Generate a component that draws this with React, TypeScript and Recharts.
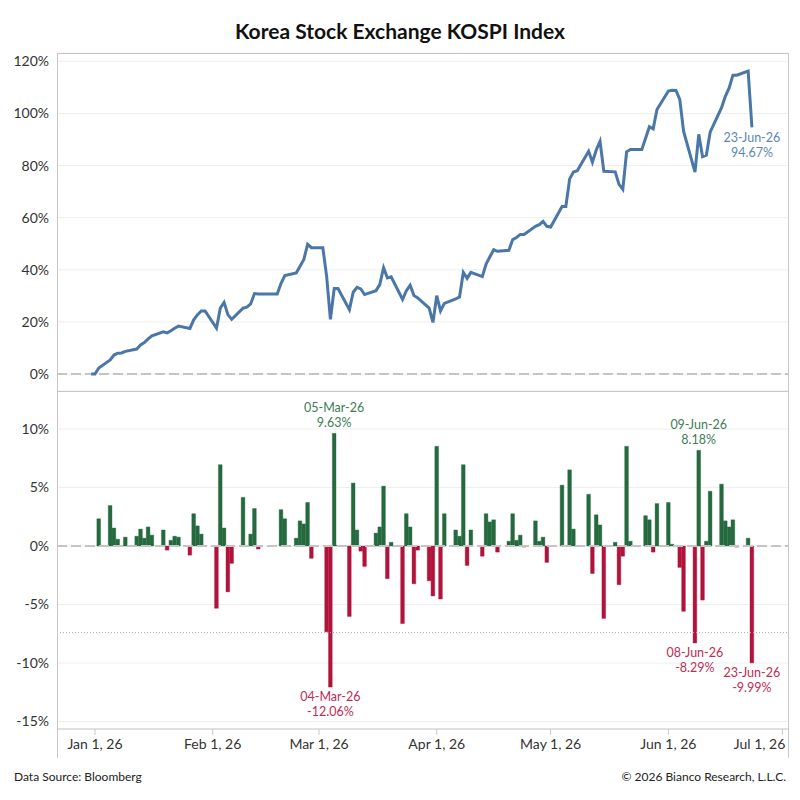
import {
  LineChart,
  Line,
  BarChart,
  Bar,
  Cell,
  XAxis,
  YAxis,
  CartesianGrid,
  ReferenceLine,
  LabelList,
} from "recharts";

// trading calendar (weekdays, holidays carry a 0% move)
const baseDate = "2025-12-31";
const tradeDates = [
  "2026-01-01", "2026-01-02", "2026-01-05", "2026-01-06", "2026-01-07", "2026-01-08", "2026-01-09",
  "2026-01-12", "2026-01-13", "2026-01-14", "2026-01-15", "2026-01-16", "2026-01-19", "2026-01-20",
  "2026-01-21", "2026-01-22", "2026-01-23", "2026-01-26", "2026-01-27", "2026-01-28", "2026-01-29",
  "2026-01-30",
  "2026-02-02", "2026-02-03", "2026-02-04", "2026-02-05", "2026-02-06", "2026-02-09", "2026-02-10",
  "2026-02-11", "2026-02-12", "2026-02-13", "2026-02-16", "2026-02-17", "2026-02-18", "2026-02-19",
  "2026-02-20", "2026-02-23", "2026-02-24", "2026-02-25", "2026-02-26", "2026-02-27",
  "2026-03-02", "2026-03-03", "2026-03-04", "2026-03-05", "2026-03-06", "2026-03-09", "2026-03-10",
  "2026-03-11", "2026-03-12", "2026-03-13", "2026-03-16", "2026-03-17", "2026-03-18", "2026-03-19",
  "2026-03-20", "2026-03-23", "2026-03-24", "2026-03-25", "2026-03-26", "2026-03-27", "2026-03-30",
  "2026-03-31",
  "2026-04-01", "2026-04-02", "2026-04-03", "2026-04-06", "2026-04-07", "2026-04-08", "2026-04-09",
  "2026-04-10", "2026-04-13", "2026-04-14", "2026-04-15", "2026-04-16", "2026-04-17", "2026-04-20",
  "2026-04-21", "2026-04-22", "2026-04-23", "2026-04-24", "2026-04-27", "2026-04-28", "2026-04-29",
  "2026-04-30",
  "2026-05-01", "2026-05-04", "2026-05-05", "2026-05-06", "2026-05-07", "2026-05-08", "2026-05-11",
  "2026-05-12", "2026-05-13", "2026-05-14", "2026-05-15", "2026-05-18", "2026-05-19", "2026-05-20",
  "2026-05-21", "2026-05-22", "2026-05-25", "2026-05-26", "2026-05-27", "2026-05-28", "2026-05-29",
  "2026-06-01", "2026-06-02", "2026-06-03", "2026-06-04", "2026-06-05", "2026-06-08", "2026-06-09",
  "2026-06-10", "2026-06-11", "2026-06-12", "2026-06-15", "2026-06-16", "2026-06-17", "2026-06-18",
  "2026-06-19", "2026-06-22", "2026-06-23",
];

// daily % change
const dailyChange = [
  0, 2.33, 3.46, 1.54, 0.58, 0.03, 0.76, 0.84, 1.45, 0.67, 1.63, 0.93, 1.37, -0.35, 0.49, 0.84, 0.76,
  -0.78, 2.76, 1.72, 1.02, 0.05,
  -5.32, 6.95, 1.54, -3.92, -1.48, 4.16, 0.05, 1.02, 3.2, -0.26, 0, 0, 0, 3.11, 2.33, 0.67, 2.15, 1.89,
  3.72, -1.05,
  0, -7.33, -12.06, 9.63, 0.05, -6.02, 5.38, 1.37, -0.44, -1.74, 1.1, 1.63, 5.12, -2.79, 0.32, -6.63,
  2.76, 1.63, -3.23, -0.35, -2.97, -4.27,
  8.52, -4.53, 2.76, 1.37, 0.84, 6.95, -1.66, 1.37, -0.87, 2.76, 2.06, 2.24, -0.52, 0.41, 2.76, 0.49,
  0.93, -0.09, 2.15, 0.41, 0.76, -1.4,
  0, 5.2, 0, 6.51, 1.45, 0.05, 4.42, -2.35, 2.67, 1.8, -6.19, 0.32, -3.31, -0.87, 8.52, 0.41, 0, 2.59,
  2.24, -0.52, 3.63,
  3.72, 0.15, 0, -1.83, -5.58, -8.29, 8.18, -4.62, 0.41, 4.68, 5.29, 2.15, 1.63, 2.24, -0.09, 0.67,
  -9.99,
];

// cumulative % change since 31-Dec-25
const cumulative = [
  0, 2.3, 5.4, 7.3, 8.0, 8.1, 8.7, 9.6, 11.2, 12.1, 13.5, 14.7, 16.2, 15.8, 16.6, 17.6, 18.4, 17.5,
  20.8, 22.8, 24.2, 24.2,
  17.6, 25.3, 27.5, 22.8, 21.0, 25.3, 25.7, 26.9, 30.9, 30.7, 30.7, 30.7, 30.7, 34.8, 37.8, 38.8,
  41.4, 44.0, 49.8, 48.5,
  48.5, 37.6, 21.0, 32.8, 32.8, 24.7, 31.4, 33.3, 32.7, 30.5, 32.0, 34.3, 40.8, 36.9, 37.3, 28.6,
  32.0, 34.1, 30.1, 29.2, 25.3, 19.8,
  30.1, 24.2, 27.1, 28.8, 29.6, 39.0, 36.7, 39.0, 37.4, 42.2, 45.0, 47.7, 47.1, 47.5, 51.6, 52.4,
  53.6, 53.6, 56.7, 57.3, 58.6, 56.7,
  56.4, 64.3, 64.3, 74.9, 77.5, 78.0, 85.5, 81.3, 86.0, 89.3, 77.8, 77.6, 72.8, 70.9, 85.3, 86.2,
  86.2, 90.5, 94.9, 94.1, 101.5,
  108.6, 108.9, 108.8, 105.4, 93.2, 77.5, 92.0, 83.4, 84.0, 92.8, 102.2, 106.6, 109.8, 114.7, 114.7,
  116.3, 94.67,
];

const monthTicks = ["2026-01-01", "2026-02-01", "2026-03-01", "2026-04-01", "2026-05-01", "2026-06-01", "2026-07-01"];
const monthTickLabels = ["Jan 1, 26", "Feb 1, 26", "Mar 1, 26", "Apr 1, 26", "May 1, 26", "Jun 1, 26", "Jul 1, 26"];
const lineTicks = [0, 20, 40, 60, 80, 100, 120];
const barTicks = [-15, -10, -5, 0, 5, 10];
const thresholdLevel = -7.4;

const barNotes = [
  { date: "2026-03-04", label: "04-Mar-26", text: "-12.06%" },
  { date: "2026-03-05", label: "05-Mar-26", text: "9.63%" },
  { date: "2026-06-08", label: "08-Jun-26", text: "-8.29%" },
  { date: "2026-06-09", label: "09-Jun-26", text: "8.18%" },
  { date: "2026-06-23", label: "23-Jun-26", text: "-9.99%" },
];
const lineNote = { date: "2026-06-23", label: "23-Jun-26", text: "94.67%" };

const FONT = "Lato, 'Noto Sans', sans-serif";
const BLUE = "#4a77a8";
const GREEN = "#256a3e";
const RED = "#b0133b";
const FRAME = "#c8c8c8";

const dayOf = (iso: string) => {
  const [y, m, d] = iso.split("-").map(Number);
  return (Date.UTC(y, m - 1, d) - Date.UTC(2026, 0, 1)) / 86400000;
};

const X_DOMAIN: [number, number] = [-10, 182.5];
const tickDays = monthTicks.map(dayOf);

const lineData = [
  { day: dayOf(baseDate), value: 0, note: undefined as string | undefined },
  ...tradeDates.map((d, i) => ({
    day: dayOf(d),
    value: cumulative[i],
    note: d === lineNote.date ? lineNote.label : undefined,
  })),
];

const barData = tradeDates.map((d, i) => ({
  day: dayOf(d),
  value: dailyChange[i],
  note: barNotes.find((n) => n.date === d)?.label,
}));

const readBox = (props: any) => {
  const vb = props.viewBox ?? {};
  const x = Number(vb.x ?? props.x ?? 0);
  const y = Number(vb.y ?? props.y ?? 0);
  const w = Number(vb.width ?? props.width ?? 0);
  const h = Number(vb.height ?? props.height ?? 0);
  return { x, y, w, h };
};

const BarNote = (props: any) => {
  const note = barNotes.find((n) => n.label === props.value);
  if (!note) return null;
  const v = dailyChange[tradeDates.indexOf(note.date)];
  const { x, y, w, h } = readBox(props);
  const cx = x + w / 2;
  const top = Math.min(y, y + h);
  const bottom = Math.max(y, y + h);
  const fill = v > 0 ? "#3d7d58" : "#c42a52";
  const y1 = v > 0 ? top - 21 : bottom + 14;
  return (
    <g>
      <text x={cx} y={y1} textAnchor="middle" fontSize={12.5} fill={fill} fontFamily={FONT}>
        {note.label}
      </text>
      <text x={cx} y={y1 + 15} textAnchor="middle" fontSize={12.5} fill={fill} fontFamily={FONT}>
        {note.text}
      </text>
    </g>
  );
};

const LineNote = (props: any) => {
  if (props.value !== lineNote.label) return null;
  const { x, y } = readBox(props);
  return (
    <g>
      <text x={x} y={y + 15} textAnchor="middle" fontSize={12.5} fill="#5a87b8" fontFamily={FONT}>
        {lineNote.label}
      </text>
      <text x={x} y={y + 30} textAnchor="middle" fontSize={12.5} fill="#5a87b8" fontFamily={FONT}>
        {lineNote.text}
      </text>
    </g>
  );
};

// last month label is pulled inside the frame, as in the source chart
const MonthTick = (props: any) => {
  const { x, y, payload } = props;
  const i = tickDays.indexOf(payload.value);
  const last = i === tickDays.length - 1;
  return (
    <text
      x={last ? x + 3 : x}
      y={y}
      dy="0.71em"
      textAnchor={last ? "end" : "middle"}
      fontSize={14}
      fill="#333"
      fontFamily={FONT}
    >
      {monthTickLabels[i]}
    </text>
  );
};

const frameLine = (style: React.CSSProperties) => (
  <div style={{ position: "absolute", background: FRAME, ...style }} />
);

const tickStyle = { fill: "#333", fontSize: 14, fontFamily: FONT };

export default function App() {
  return (
    <div
      style={{
        position: "absolute",
        left: 0,
        top: 0,
        width: 800,
        height: 800,
        background: "#fff",
        fontFamily: FONT,
        overflow: "hidden",
      }}
    >
      <div
        style={{
          position: "absolute",
          top: 18,
          width: 800,
          textAlign: "center",
          fontSize: 21,
          fontWeight: 700,
          color: "#111",
        }}
      >
        Korea Stock Exchange KOSPI Index
      </div>

      <div style={{ position: "absolute", left: 0, top: 0 }}>
        <LineChart
          width={800}
          height={400}
          data={lineData}
          margin={{ top: 53, right: 12, bottom: 9, left: 7 }}
        >
          <CartesianGrid vertical={false} stroke="#eeeeee" />
          <XAxis
            type="number"
            dataKey="day"
            domain={X_DOMAIN}
            allowDataOverflow
            hide
          />
          <YAxis
            type="number"
            width={50}
            domain={[-6.5, 123.2]}
            allowDataOverflow
            ticks={lineTicks}
            tickFormatter={(v) => `${v}%`}
            tick={tickStyle}
            axisLine={false}
            tickLine={false}
          />
          <ReferenceLine y={0} stroke="#c4c4c4" strokeWidth={2} strokeDasharray="10 4" />
          <Line
            type="linear"
            dataKey="value"
            stroke={BLUE}
            strokeWidth={3}
            dot={false}
            isAnimationActive={false}
          >
            <LabelList dataKey="note" content={LineNote} />
          </Line>
        </LineChart>
      </div>

      <div style={{ position: "absolute", left: 0, top: 381 }}>
        <BarChart
          width={800}
          height={380}
          data={barData}
          margin={{ top: 10, right: 12, bottom: 2, left: 7 }}
        >
          <CartesianGrid vertical={false} stroke="#eeeeee" />
          <XAxis
            type="number"
            dataKey="day"
            domain={X_DOMAIN}
            allowDataOverflow
            ticks={tickDays}
            tick={<MonthTick />}
            tickMargin={4}
            height={30}
            axisLine={{ stroke: FRAME }}
            tickLine={{ stroke: FRAME }}
          />
          <YAxis
            type="number"
            width={50}
            domain={[-15.64, 13.25]}
            allowDataOverflow
            ticks={barTicks}
            tickFormatter={(v) => `${v}%`}
            tick={tickStyle}
            axisLine={false}
            tickLine={false}
          />
          <ReferenceLine y={thresholdLevel} stroke="#aaaaaa" strokeDasharray="1 2" />
          <Bar dataKey="value" barSize={3.7} isAnimationActive={false}>
            {barData.map((d) => {
              const c = d.value >= 0 ? GREEN : RED;
              return <Cell key={d.day} fill={c} stroke={c} strokeWidth={0.4} />;
            })}
            <LabelList dataKey="note" content={BarNote} />
          </Bar>
          <ReferenceLine y={0} stroke="#c4c4c4" strokeWidth={2} strokeDasharray="10 4" />
        </BarChart>
      </div>

      {frameLine({ left: 57, top: 53, width: 1, height: 705 })}
      {frameLine({ left: 788, top: 53, width: 1, height: 705 })}
      {frameLine({ left: 57, top: 53, width: 732, height: 1 })}
      {frameLine({ left: 57, top: 391, width: 732, height: 1 })}

      <div style={{ position: "absolute", left: 14, top: 769, fontSize: 12, color: "#222" }}>
        Data Source: Bloomberg
      </div>
      <div
        style={{
          position: "absolute",
          right: 14,
          top: 769,
          fontSize: 12,
          color: "#222",
          textAlign: "right",
        }}
      >
        © 2026 Bianco Research, L.L.C.
      </div>
    </div>
  );
}
